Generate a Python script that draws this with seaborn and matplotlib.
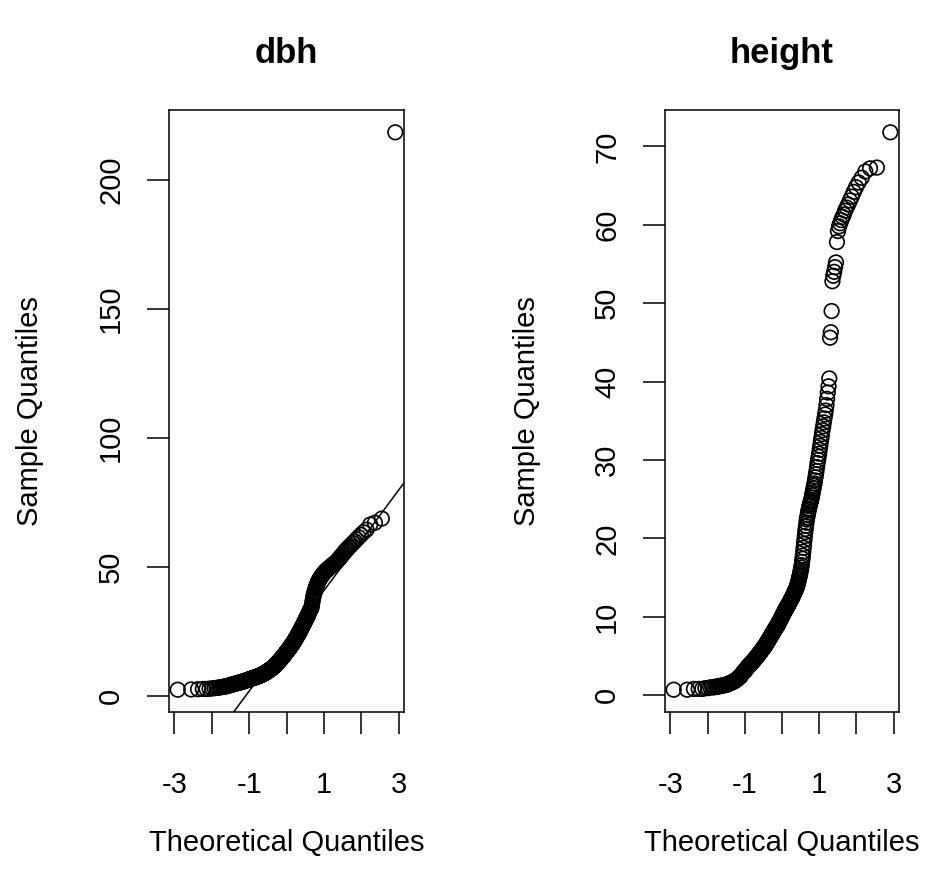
import numpy as np
import matplotlib.pyplot as plt
import seaborn as sns
from statistics import NormalDist

# ==========================================
# DATA (sorted sample values)
# ==========================================

dbh = [
    2.5, 2.6, 2.7, 2.8, 2.8, 2.9, 3.0, 3.1, 3.2, 3.3,
    3.4, 3.5, 3.6, 3.7, 3.8, 3.9, 4.0, 4.1, 4.3, 4.4,
    4.5, 4.6, 4.7, 4.8, 4.9, 5.0, 5.1, 5.2, 5.2, 5.3,
    5.4, 5.5, 5.5, 5.6, 5.7, 5.8, 5.9, 6.0, 6.0, 6.1,
    6.2, 6.3, 6.3, 6.4, 6.5, 6.6, 6.7, 6.7, 6.8, 6.9,
    6.9, 7.0, 7.1, 7.1, 7.2, 7.3, 7.3, 7.4, 7.4, 7.5,
    7.6, 7.6, 7.7, 7.8, 7.8, 7.9, 8.0, 8.0, 8.1, 8.2,
    8.3, 8.3, 8.4, 8.5, 8.6, 8.7, 8.7, 8.8, 8.9, 9.0,
    9.1, 9.2, 9.3, 9.4, 9.5, 9.6, 9.7, 9.8, 9.9, 10.0,
    10.1, 10.2, 10.3, 10.4, 10.5, 10.6, 10.7, 10.8, 11.0, 11.1,
    11.2, 11.3, 11.5, 11.6, 11.7, 11.8, 12.0, 12.1, 12.2, 12.4,
    12.5, 12.7, 12.8, 12.9, 13.1, 13.2, 13.4, 13.5, 13.7, 13.8,
    14.0, 14.1, 14.3, 14.4, 14.6, 14.7, 14.9, 15.0, 15.2, 15.3,
    15.5, 15.7, 15.8, 16.0, 16.2, 16.3, 16.5, 16.7, 16.8, 17.0,
    17.2, 17.4, 17.5, 17.7, 17.9, 18.0, 18.2, 18.4, 18.5, 18.7,
    18.9, 19.1, 19.3, 19.5, 19.7, 19.8, 20.0, 20.2, 20.4, 20.6,
    20.8, 21.0, 21.2, 21.5, 21.7, 21.9, 22.1, 22.3, 22.6, 22.8,
    23.0, 23.3, 23.5, 23.7, 24.0, 24.2, 24.5, 24.7, 25.0, 25.2,
    25.5, 25.8, 26.1, 26.4, 26.6, 26.9, 27.2, 27.5, 27.7, 28.0,
    28.3, 28.6, 28.9, 29.2, 29.5, 29.8, 30.1, 30.4, 30.7, 31.0,
    31.2, 31.6, 32.0, 32.4, 32.8, 33.1, 33.4, 33.7, 34.0, 34.3,
    35.2, 36.2, 37.2, 38.2, 39.0, 39.6, 40.2, 40.8, 41.4, 42.0,
    42.4, 42.9, 43.4, 43.9, 44.3, 44.7, 45.0, 45.4, 45.7, 46.0,
    46.3, 46.6, 46.9, 47.2, 47.4, 47.7, 47.9, 48.2, 48.4, 48.6,
    48.8, 49.0, 49.3, 49.5, 49.7, 49.9, 50.1, 50.4, 50.6, 50.8,
    51.0, 51.3, 51.5, 51.8, 52.0, 52.4, 52.8, 53.2, 53.6, 54.0,
    54.5, 55.0, 55.5, 56.0, 56.5, 57.0, 57.6, 58.1, 58.7, 59.3,
    60.0, 60.8, 61.6, 62.5, 63.5, 64.5, 66.5, 67.2, 68.8, 218.5,
]

height = [
    0.7, 0.7, 0.8, 0.8, 0.8, 0.9, 0.9, 1.0, 1.0, 1.0,
    1.1, 1.1, 1.1, 1.2, 1.2, 1.2, 1.3, 1.3, 1.3, 1.4,
    1.4, 1.5, 1.5, 1.6, 1.6, 1.7, 1.7, 1.8, 1.8, 1.9,
    2.0, 2.0, 2.1, 2.2, 2.3, 2.3, 2.4, 2.5, 2.6, 2.7,
    2.8, 2.9, 3.0, 3.0, 3.1, 3.2, 3.3, 3.4, 3.5, 3.6,
    3.6, 3.7, 3.8, 3.8, 3.9, 4.0, 4.0, 4.1, 4.2, 4.2,
    4.3, 4.4, 4.4, 4.5, 4.6, 4.6, 4.7, 4.8, 4.8, 4.9,
    5.0, 5.0, 5.1, 5.2, 5.2, 5.3, 5.4, 5.4, 5.5, 5.6,
    5.6, 5.7, 5.8, 5.8, 5.9, 6.0, 6.0, 6.1, 6.2, 6.2,
    6.3, 6.4, 6.4, 6.5, 6.6, 6.7, 6.7, 6.8, 6.9, 7.0,
    7.0, 7.1, 7.2, 7.3, 7.3, 7.4, 7.5, 7.6, 7.6, 7.7,
    7.8, 7.9, 7.9, 8.0, 8.1, 8.2, 8.2, 8.3, 8.4, 8.5,
    8.5, 8.6, 8.7, 8.7, 8.8, 8.9, 8.9, 9.0, 9.1, 9.2,
    9.3, 9.3, 9.4, 9.5, 9.6, 9.7, 9.8, 9.8, 9.9, 10.0,
    10.1, 10.2, 10.3, 10.3, 10.4, 10.5, 10.6, 10.7, 10.8, 10.8,
    10.9, 11.0, 11.1, 11.1, 11.2, 11.3, 11.4, 11.4, 11.5, 11.6,
    11.7, 11.8, 11.8, 11.9, 12.0, 12.1, 12.2, 12.3, 12.3, 12.4,
    12.5, 12.6, 12.7, 12.8, 12.9, 13.0, 13.1, 13.2, 13.3, 13.4,
    13.5, 13.6, 13.7, 13.8, 14.0, 14.1, 14.3, 14.5, 14.7, 14.9,
    15.1, 15.3, 15.5, 15.8, 16.0, 16.3, 16.6, 17.0, 17.4, 17.8,
    18.3, 18.8, 19.3, 19.8, 20.3, 20.8, 21.2, 21.6, 22.0, 22.4,
    22.7, 23.0, 23.3, 23.6, 23.8, 24.1, 24.3, 24.5, 24.7, 24.9,
    25.2, 25.5, 25.8, 26.1, 26.4, 26.7, 27.0, 27.4, 27.8, 28.2,
    28.6, 29.1, 29.6, 30.0, 30.4, 30.8, 31.3, 31.8, 32.3, 32.8,
    33.3, 33.8, 34.3, 34.8, 35.3, 35.8, 36.3, 37.0, 37.8, 38.6,
    39.4, 40.4, 45.6, 46.3, 49.0, 52.8, 53.5, 54.0, 54.6, 55.2,
    57.8, 59.2, 59.8, 60.2, 60.6, 61.0, 61.3, 61.8, 62.2, 62.6,
    63.1, 63.6, 64.2, 64.8, 65.4, 66.0, 66.8, 67.2, 67.3, 71.8,
]

panel_titles = ["dbh", "height"]
x_ticks = [-3, -2, -1, 0, 1, 2, 3]
x_tick_labels = ["-3", "", "-1", "", "1", "", "3"]
dbh_ticks = [0, 50, 100, 150, 200]
height_ticks = [0, 10, 20, 30, 40, 50, 60, 70]

# ==========================================
# STYLE
# ==========================================

sns.set_style("ticks")
plt.rcParams["font.family"] = ["Liberation Sans", "DejaVu Sans"]
plt.rcParams["axes.edgecolor"] = "black"
plt.rcParams["text.color"] = "black"
plt.rcParams["axes.labelcolor"] = "black"
plt.rcParams["xtick.color"] = "black"
plt.rcParams["ytick.color"] = "black"

FS = 21


def theoretical_quantiles(n):
    # same plotting positions as R's ppoints()
    a = 3 / 8 if n <= 10 else 0.5
    p = (np.arange(1, n + 1) - a) / (n + 1 - 2 * a)
    return np.array([NormalDist().inv_cdf(v) for v in p])


# ==========================================
# PLOT
# ==========================================

fig = plt.figure(figsize=(9.49, 8.90), dpi=100)

W, H = 949, 890
boxes = [(169, 404), (665, 899)]
top, bottom = 110, 712

panels = [(dbh, dbh_ticks), (height, height_ticks)]

for k, (values, yticks) in enumerate(panels):
    x0, x1 = boxes[k]
    ax = fig.add_axes([x0 / W, 1 - bottom / H, (x1 - x0) / W, (bottom - top) / H])

    theo = theoretical_quantiles(len(values))
    sns.scatterplot(
        x=theo,
        y=np.array(values),
        ax=ax,
        color="black",
        edgecolor="black",
        s=110,
        linewidth=1.2,
        legend=False,
    )
    ax.collections[0].set_facecolor("none")

    if k == 0:
        # qqline through the quartiles
        yq = np.quantile(values, [0.25, 0.75])
        xq = [NormalDist().inv_cdf(0.25), NormalDist().inv_cdf(0.75)]
        slope = (yq[1] - yq[0]) / (xq[1] - xq[0])
        intercept = yq[0] - slope * xq[0]
        ax.axline((0, intercept), slope=slope, color="black", linewidth=1.1)

    ax.margins(x=0.04, y=0.04)

    ax.set_xticks(x_ticks)
    ax.set_xticklabels(x_tick_labels)
    ax.set_yticks(yticks)
    ax.set_yticklabels([str(t) for t in yticks])

    for side in ax.spines.values():
        side.set_linewidth(1.1)

    ax.tick_params(axis="both", direction="out", length=15.6, width=1.1,
                   labelsize=FS)
    ax.tick_params(axis="x", pad=27)
    ax.tick_params(axis="y", pad=16, labelrotation=90)
    for lbl in ax.get_yticklabels():
        lbl.set_verticalalignment("center")

    ax.set_title(panel_titles[k], fontsize=25, fontweight="bold", pad=34)

    ax.set_xlabel("Theoretical Quantiles", fontsize=FS, va="center")
    ax.xaxis.set_label_coords(0.5, -(843 - bottom) / (bottom - top))
    ax.set_ylabel("Sample Quantiles", fontsize=FS, va="center")
    ax.yaxis.set_label_coords(((30 if k == 0 else 527) - x0) / (x1 - x0), 0.5)

# ==========================================
# SAVE
# ==========================================

plt.savefig("out.png", dpi=100)
